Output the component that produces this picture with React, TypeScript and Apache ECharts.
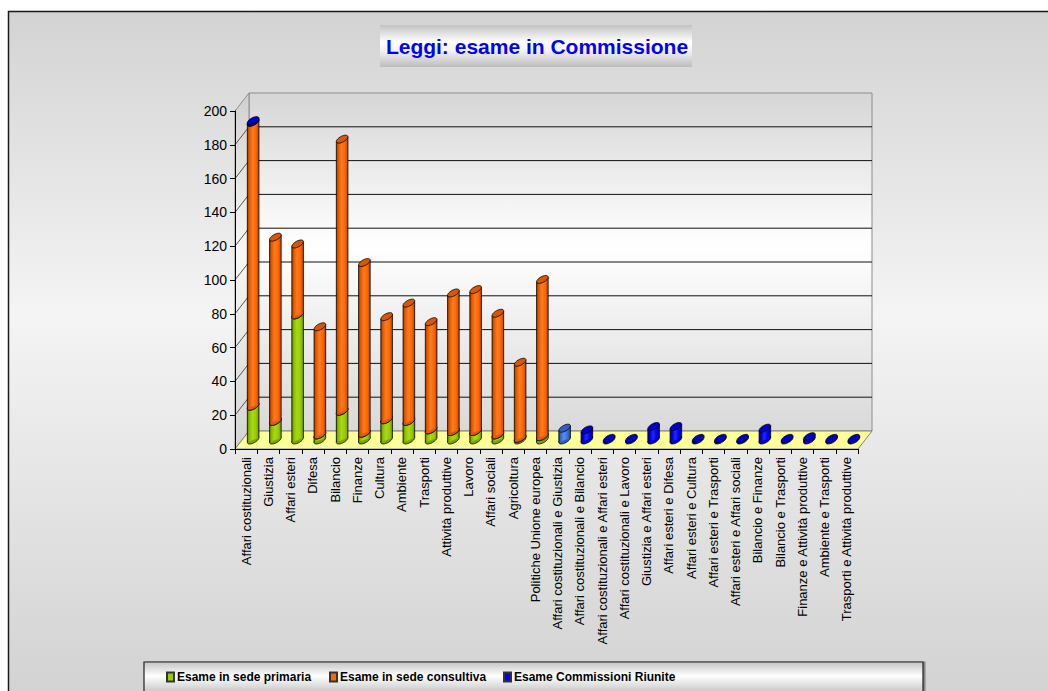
import React, { useEffect, useRef } from "react";
import * as echarts from "echarts";

const categories = [
  "Affari costituzionali", "Giustizia", "Affari esteri", "Difesa", "Bilancio", "Finanze", "Cultura",
  "Ambiente", "Trasporti", "Attività produttive", "Lavoro", "Affari sociali", "Agricoltura",
  "Politiche Unione europea", "Affari costituzionali e Giustizia", "Affari costituzionali e Bilancio",
  "Affari costituzionali e Affari esteri", "Affari costituzionali e Lavoro", "Giustizia e Affari esteri",
  "Affari esteri e Difesa", "Affari esteri e Cultura", "Affari esteri e Trasporti",
  "Affari esteri e Affari sociali", "Bilancio e Finanze", "Bilancio e Trasporti",
  "Finanze e Attività produttive", "Ambiente e Trasporti", "Trasporti e Attività produttive",
];
const sedePrimaria = [20, 11, 74, 3, 17, 4, 12, 11, 6, 5, 5, 3, 1, 2, 0, 0, 0, 0, 0, 0, 0, 0, 0, 0, 0, 0, 0, 0];
const sedeConsultiva = [168, 109, 42, 64, 161, 101, 61, 70, 64, 82, 84, 72, 45, 93, 0, 0, 0, 0, 0, 0, 0, 0, 0, 0, 0, 0, 0, 0];
const commissioniRiunite = [1, 0, 0, 0, 0, 0, 0, 0, 0, 0, 0, 0, 0, 0, 7, 6, 1, 1, 8, 8, 1, 1, 1, 7, 1, 2, 1, 1];
const seriesNames = ["Esame in sede primaria", "Esame in sede consultiva", "Esame Commissioni Riunite"];
const yMin = 0;
const yMax = 200;
const yStep = 20;

const FONT = "'Liberation Sans', Arial, sans-serif";

// 3D look
const DX = 14, DY = -18;
const RX = 6.4, RY = 2.9, TH = 0.5;
const cT = Math.cos(TH), sT = Math.sin(TH);
const tStar = Math.atan2(-RY * sT, RX * cT);
const PX = RX * Math.cos(tStar) * cT - RY * Math.sin(tStar) * sT;
const PY = -(RX * Math.cos(tStar) * sT + RY * Math.sin(tStar) * cT);

function ellipsePts(cx: number, cy: number) {
  const pts: number[][] = [];
  const n = 40;
  for (let k = 0; k < n; k++) {
    const t = (k / n) * Math.PI * 2;
    pts.push([
      cx + RX * Math.cos(t) * cT - RY * Math.sin(t) * sT,
      cy - (RX * Math.cos(t) * sT + RY * Math.sin(t) * cT),
    ]);
  }
  return pts;
}

const palettes = [
  { base: "#99cc00", stops: ["#5c8a00", "#8fc000", "#a8d919", "#99cc00", "#6b9900"], top: "#86b300", bottom: "#7aa600" },
  { base: "#ff6600", stops: ["#a34000", "#e65c00", "#ff7a1f", "#ff6600", "#b34700"], top: "#d95700", bottom: "#e05a00" },
  { base: "#0000ff", stops: ["#000080", "#0000dd", "#2424ff", "#0000ee", "#000099"], top: "#0000cc", bottom: "#0000cc" },
];
const lightBlue = { base: "#3366ff", stops: ["#1c3f99", "#3a6fd8", "#5a8cf0", "#3a6fd8", "#24489e"], top: "#2f5fc8", bottom: "#2f5fc8" };

function buildStack() {
  const lists = [sedePrimaria, sedeConsultiva, commissioniRiunite];
  const acc = categories.map(() => 0);
  return lists.map((vals) =>
    vals.map((v, i) => {
      const s = acc[i];
      acc[i] += v;
      return [i, s, s + v];
    })
  );
}

export default function App() {
  const ref = useRef<HTMLDivElement>(null);
  useEffect(() => {
    if (!ref.current) return;
    const chart = echarts.init(ref.current, undefined, { renderer: "svg" });
    const stacks = buildStack();

    const barRender = (sIdx: number) => (params: any, api: any) => {
      const cat = api.value(0);
      const s = api.value(1);
      const e = api.value(2);
      if (e - s <= 0) return null;
      const b = api.coord([cat, s]);
      const t = api.coord([cat, e]);
      const cx = b[0] + DX / 2;
      const yb = b[1] + DY / 2;
      const yt = t[1] + DY / 2;
      const pal = sIdx === 2 && cat === 14 ? lightBlue : palettes[sIdx];
      const grad = new echarts.graphic.LinearGradient(0, 0, 1, 0, [
        { offset: 0, color: pal.stops[0] },
        { offset: 0.2, color: pal.stops[1] },
        { offset: 0.45, color: pal.stops[2] },
        { offset: 0.75, color: pal.stops[3] },
        { offset: 1, color: pal.stops[4] },
      ]);
      return {
        type: "group",
        children: [
          { type: "polygon", shape: { points: ellipsePts(cx, yb) }, style: { fill: pal.bottom, stroke: "#000", lineWidth: 0.8 } },
          {
            type: "polygon",
            shape: { points: [[cx + PX, yt + PY], [cx + PX, yb + PY], [cx - PX, yb - PY], [cx - PX, yt - PY]] },
            style: { fill: grad },
          },
          { type: "polyline", shape: { points: [[cx + PX, yt + PY], [cx + PX, yb + PY]] }, style: { stroke: "#000", lineWidth: 0.8, fill: null } },
          { type: "polyline", shape: { points: [[cx - PX, yt - PY], [cx - PX, yb - PY]] }, style: { stroke: "#000", lineWidth: 0.8, fill: null } },
          { type: "polygon", shape: { points: ellipsePts(cx, yt) }, style: { fill: pal.top, stroke: "#000", lineWidth: 0.8 } },
        ],
      };
    };

    const wallRender = (params: any, api: any) => {
      const cs = params.coordSys;
      const x0 = cs.x, x1 = cs.x + cs.width, yTop = cs.y, yBot = cs.y + cs.height;
      const wallGrad = new echarts.graphic.LinearGradient(0, 0, 0, 1, [
        { offset: 0, color: "#d6d6d6" },
        { offset: 0.45, color: "#ffffff" },
        { offset: 1, color: "#d9d9d9" },
      ]);
      const sideGrad = new echarts.graphic.LinearGradient(0, 0, 0, 1, [
        { offset: 0, color: "#d0d0d0" },
        { offset: 0.45, color: "#f7f7f7" },
        { offset: 1, color: "#d4d4d4" },
      ]);
      const children: any[] = [
        {
          type: "polygon",
          shape: { points: [[x0 + DX, yTop + DY], [x1 + DX, yTop + DY], [x1 + DX, yBot + DY], [x0 + DX, yBot + DY]] },
          style: { fill: wallGrad, stroke: "#8c8c8c", lineWidth: 1 },
        },
        {
          type: "polygon",
          shape: { points: [[x0, yTop], [x0 + DX, yTop + DY], [x0 + DX, yBot + DY], [x0, yBot]] },
          style: { fill: sideGrad, stroke: "#8c8c8c", lineWidth: 1 },
        },
        {
          type: "polygon",
          shape: { points: [[x0, yBot], [x1, yBot], [x1 + DX, yBot + DY], [x0 + DX, yBot + DY]] },
          style: { fill: "#ffff99", stroke: "#808080", lineWidth: 1 },
        },
      ];
      for (let v = yMin + yStep; v < yMax; v += yStep) {
        const y = api.coord([0, v])[1];
        children.push({
          type: "line",
          shape: { x1: x0 + DX, y1: y + DY, x2: x1 + DX, y2: y + DY },
          style: { stroke: "#111", lineWidth: 1 },
        });
        children.push({
          type: "line",
          shape: { x1: x0, y1: y, x2: x0 + DX, y2: y + DY },
          style: { stroke: "#555", lineWidth: 1 },
        });
      }
      return { type: "group", children };
    };

    const legendLeft = [166, 329, 503];

    chart.setOption({
      animation: false,
      backgroundColor: "#ffffff",
      graphic: [
        {
          type: "rect",
          z: -10,
          shape: { x: 8.5, y: 11.5, width: 1100, height: 720 },
          style: {
            fill: new echarts.graphic.LinearGradient(0, 0, 0, 1, [
              { offset: 0, color: "#d3d3d3" },
              { offset: 0.42, color: "#f4f4f4" },
              { offset: 0.92, color: "#d4d4d4" },
              { offset: 1, color: "#d2d2d2" },
            ]),
            stroke: "#1a1a1a",
            lineWidth: 1.5,
          },
        },
        {
          type: "rect",
          z: 1,
          shape: { x: 380, y: 25, width: 312, height: 42 },
          style: {
            fill: new echarts.graphic.LinearGradient(0, 0, 0, 1, [
              { offset: 0, color: "#c2c2c2" },
              { offset: 0.4, color: "#ffffff" },
              { offset: 0.6, color: "#f4f4f4" },
              { offset: 1, color: "#bdbdbd" },
            ]),
          },
        },
        {
          type: "text",
          z: 2,
          style: {
            text: "Leggi: esame in Commissione",
            x: 537,
            y: 46,
            textAlign: "center",
            textVerticalAlign: "middle",
            fill: "#0000ff",
            fontFamily: FONT,
            fontWeight: "bold",
            fontSize: 21,
          },
        },
        {
          type: "rect",
          z: 1,
          shape: { x: 144, y: 662, width: 779, height: 40 },
          style: {
            fill: new echarts.graphic.LinearGradient(0, 0, 0, 1, [
              { offset: 0, color: "#c4c4c4" },
              { offset: 0.35, color: "#ffffff" },
              { offset: 0.75, color: "#c8c8c8" },
              { offset: 1, color: "#c0c0c0" },
            ]),
            stroke: "#222",
            lineWidth: 1.2,
            shadowColor: "rgba(0,0,0,0.35)",
            shadowOffsetX: 2,
            shadowOffsetY: 0,
            shadowBlur: 1,
          },
        },
      ],
      legend: seriesNames.map((name, i) => ({
        data: [{ name, icon: "rect" }],
        left: legendLeft[i],
        top: 671,
        padding: 0,
        itemWidth: 7,
        itemHeight: 9,
        selectedMode: false,
        textStyle: { fontFamily: FONT, fontWeight: "bold", fontSize: 12, color: "#000", padding: [0, 0, 0, -2] },
      })),
      grid: { left: 235, right: 190, top: 111, bottom: 242, containLabel: false },
      xAxis: {
        type: "category",
        data: categories,
        z: 3,
        axisLine: { show: true, lineStyle: { color: "#000", width: 1 } },
        axisTick: { show: true, length: 5, alignWithLabel: false, interval: 0, lineStyle: { color: "#000" } },
        axisLabel: { rotate: 90, interval: 0, fontSize: 13, margin: 8, color: "#000", fontFamily: FONT },
        splitLine: { show: false },
      },
      yAxis: {
        type: "value",
        min: yMin,
        max: yMax,
        interval: yStep,
        z: 3,
        axisLine: { show: true, lineStyle: { color: "#000", width: 1 } },
        axisTick: { show: true, length: 5, lineStyle: { color: "#000" } },
        axisLabel: { fontSize: 14, margin: 8, color: "#000", fontFamily: FONT },
        splitLine: { show: false },
      },
      series: [
        {
          type: "custom",
          name: "walls",
          z: 1,
          silent: true,
          renderItem: wallRender,
          data: [[0, 0]],
          encode: { x: 0, y: 1 },
        },
        ...seriesNames.map((name, i) => ({
          type: "custom",
          name,
          z: 2,
          itemStyle: { color: palettes[i].base, borderColor: "#333", borderWidth: 1 },
          renderItem: barRender(i),
          data: stacks[i],
          encode: { x: 0, y: 2 },
        })),
      ],
    });
    return () => chart.dispose();
  }, []);
  return (
    <div
      ref={ref}
      style={{ position: "absolute", left: 0, top: 0, width: 1048, height: 691 }}
    />
  );
}
